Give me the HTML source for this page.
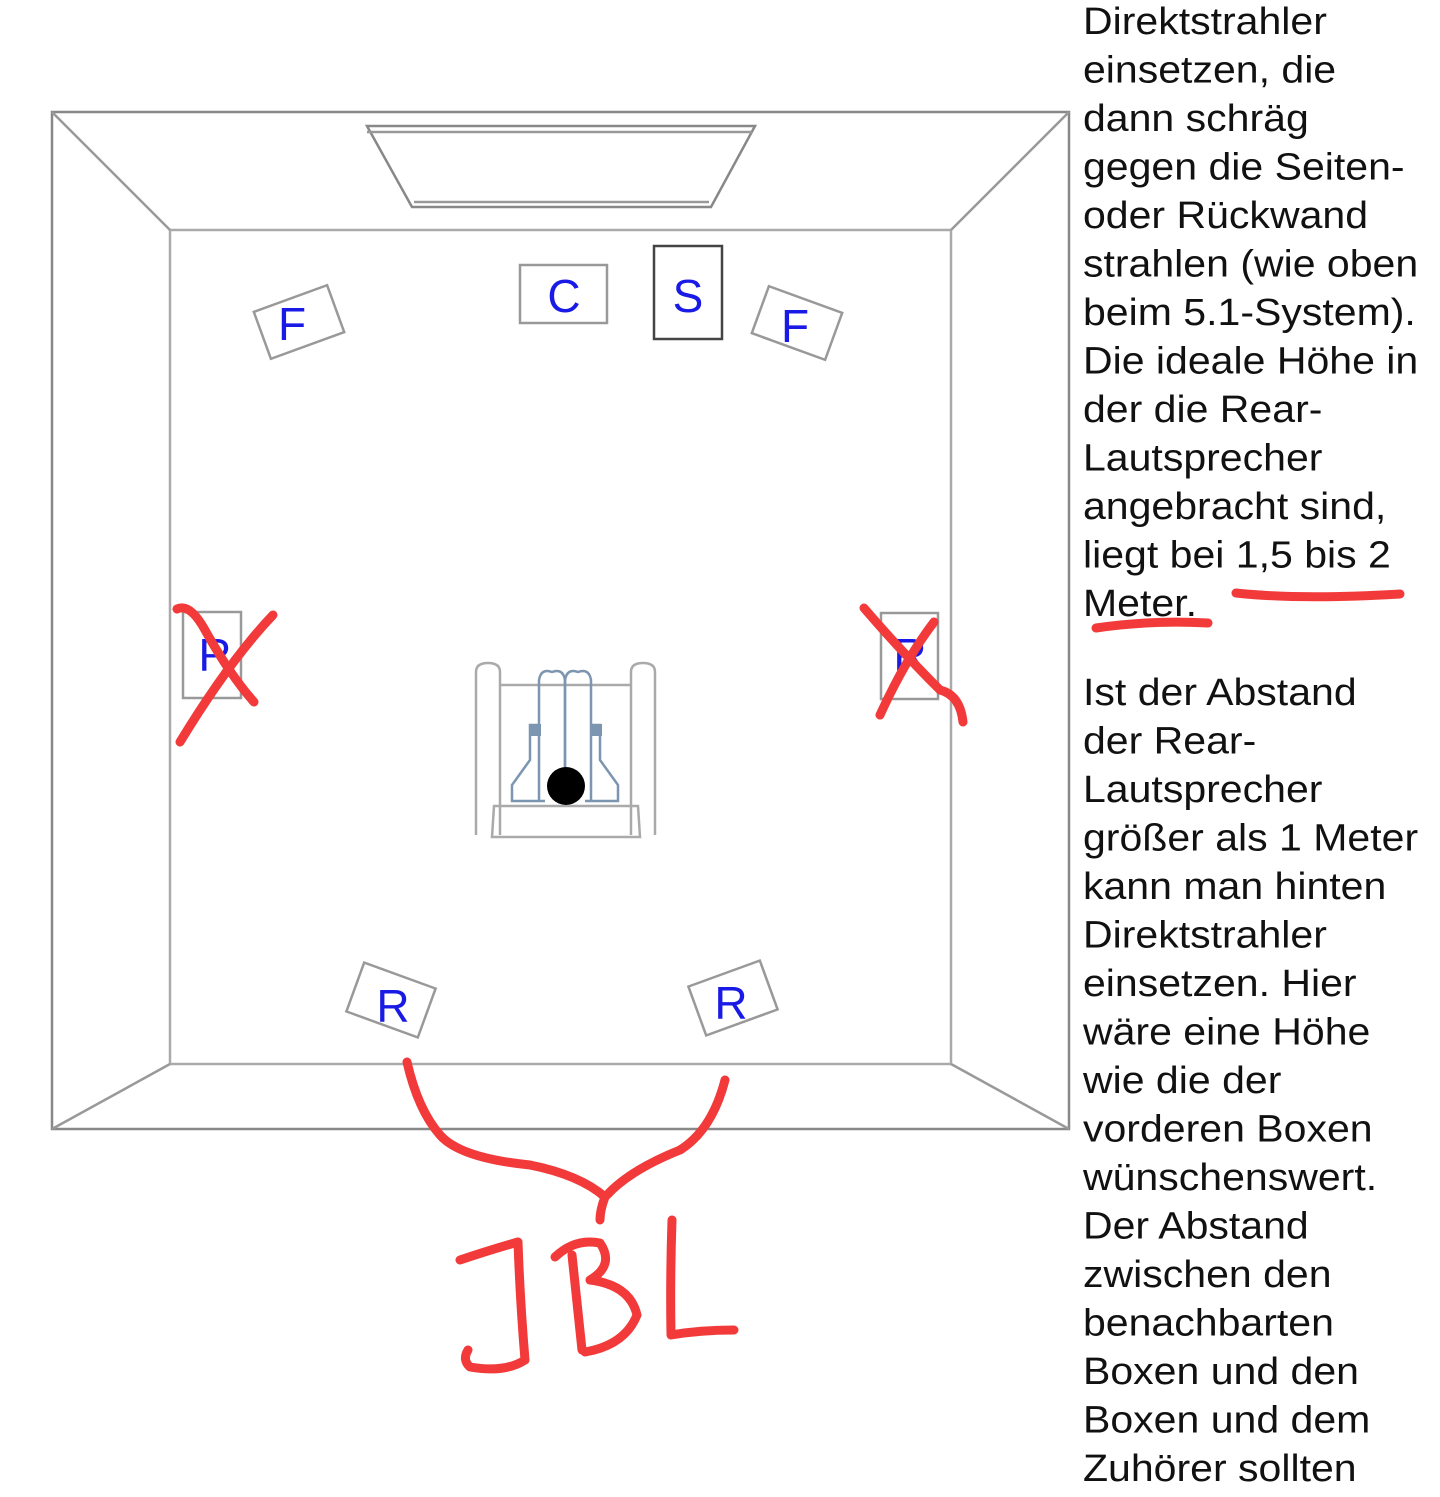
<!DOCTYPE html>
<html><head><meta charset="utf-8"><style>
html,body{margin:0;padding:0;background:#fff;}
svg{display:block}
</style></head><body>
<svg width="1440" height="1497" viewBox="0 0 1440 1497" xmlns="http://www.w3.org/2000/svg">
<g fill="none" stroke="#999" stroke-width="2.5">
<rect x="52" y="112" width="1017" height="1017" stroke="#888"/>
<rect x="170" y="230" width="781" height="834" stroke="#aaa"/>
<line x1="52" y1="112" x2="170" y2="230"/>
<line x1="1069" y1="112" x2="951" y2="230"/>
<line x1="52" y1="1129" x2="170" y2="1064"/>
<line x1="1069" y1="1129" x2="951" y2="1064"/>
<polygon points="367,126 755,126 711,207 412,207" stroke="#888"/>
<line x1="367" y1="132" x2="752" y2="132"/>
<line x1="414" y1="202" x2="709" y2="202"/>
<rect x="520" y="265" width="87" height="58" stroke="#999"/>
<rect x="654" y="246" width="68" height="93" stroke="#444"/>
<rect x="-39" y="-25" width="78" height="50" transform="translate(299,322) rotate(-20)"/>
<rect x="-39" y="-25" width="78" height="50" transform="translate(797,323) rotate(20)"/>
<rect x="-38" y="-26" width="76" height="52" transform="translate(391,1000) rotate(20)"/>
<rect x="-38" y="-26" width="76" height="52" transform="translate(733,998) rotate(-20)"/>
<rect x="183" y="612" width="58" height="86"/>
<rect x="881" y="613" width="57" height="86"/>
</g>
<g font-family="Liberation Sans, sans-serif" font-size="46" fill="#1a1ae6" text-anchor="middle">
<text x="564" y="312">C</text>
<text x="688" y="312">S</text>
<text x="292" y="340">F</text>
<text x="795" y="342">F</text>
<text x="393" y="1022">R</text>
<text x="731" y="1019">R</text>
<text x="215" y="671">R</text>
<text x="910" y="671">R</text>
</g>
<g fill="none" stroke="#aaa" stroke-width="2.5">
<path d="M476,835 V672 Q476,663 488,663 Q500,663 500,672 V835"/>
<path d="M631,835 V672 Q631,663 643,663 Q655,663 655,672 V835"/>
<line x1="500" y1="685" x2="631" y2="685"/>
<path d="M494,806 H638 L640,837 H492 Z"/>
</g>
<g fill="none" stroke="#7c95b0" stroke-width="2.5">
<path d="M539,800 V680 Q541,668 552,672 Q563,668 565,680 V780"/>
<path d="M565,780 V680 Q567,668 578,672 Q589,668 591,680 V800"/>
<path d="M539,725 H530 V760 L512,785 V801 H545"/>
<path d="M591,725 H600 V760 L618,785 V801 H585"/>
</g>
<rect x="529" y="724" width="12" height="12" fill="#7c95b0"/>
<rect x="590" y="724" width="12" height="12" fill="#7c95b0"/>
<circle cx="566" cy="786" r="19" fill="#000"/>
<g fill="none" stroke="#f23a3a" stroke-width="9" stroke-linecap="round" stroke-linejoin="round">
<path d="M177,609 Q190,603 205,630 Q230,675 254,702"/>
<path d="M273,615 Q230,660 180,742"/>
<path d="M864,608 Q900,650 940,690 Q960,695 963,722"/>
<path d="M934,622 Q905,660 880,715"/>
<path d="M1096,628 Q1150,620 1208,623"/>
<path d="M1236,593 Q1300,600 1400,594"/>
<path d="M407,1062 Q418,1110 440,1135 Q460,1158 530,1165 Q580,1175 605,1197 Q600,1210 600,1220"/>
<path d="M725,1080 Q712,1130 680,1150 Q630,1170 607,1195"/>
<path d="M460,1260 Q490,1250 518,1242 Q520,1300 525,1360 Q505,1373 470,1367 Q462,1360 468,1350"/>
<path d="M555,1257 Q575,1238 600,1243 Q615,1265 590,1280 Q630,1285 637,1315 Q625,1345 585,1352"/>
<path d="M572,1255 L582,1350"/>
<path d="M672,1220 Q670,1280 671,1335 Q700,1330 734,1330"/>
</g>
<g font-family="Liberation Sans, sans-serif" font-size="38" fill="#111" transform="translate(1083,0) scale(1.08,1) translate(-1083,0)">
<text x="1083" y="34">Direktstrahler</text>
<text x="1083" y="82.5">einsetzen, die</text>
<text x="1083" y="131">dann schräg</text>
<text x="1083" y="179.5">gegen die Seiten-</text>
<text x="1083" y="228">oder Rückwand</text>
<text x="1083" y="276.5">strahlen (wie oben</text>
<text x="1083" y="325">beim 5.1-System).</text>
<text x="1083" y="373.5">Die ideale Höhe in</text>
<text x="1083" y="422">der die Rear-</text>
<text x="1083" y="470.5">Lautsprecher</text>
<text x="1083" y="519">angebracht sind,</text>
<text x="1083" y="567.5">liegt bei 1,5 bis 2</text>
<text x="1083" y="616">Meter.</text>
<text x="1083" y="705">Ist der Abstand</text>
<text x="1083" y="753.5">der Rear-</text>
<text x="1083" y="802">Lautsprecher</text>
<text x="1083" y="850.5">größer als 1 Meter</text>
<text x="1083" y="899">kann man hinten</text>
<text x="1083" y="947.5">Direktstrahler</text>
<text x="1083" y="996">einsetzen. Hier</text>
<text x="1083" y="1044.5">wäre eine Höhe</text>
<text x="1083" y="1093">wie die der</text>
<text x="1083" y="1141.5">vorderen Boxen</text>
<text x="1083" y="1190">wünschenswert.</text>
<text x="1083" y="1238.5">Der Abstand</text>
<text x="1083" y="1287">zwischen den</text>
<text x="1083" y="1335.5">benachbarten</text>
<text x="1083" y="1384">Boxen und den</text>
<text x="1083" y="1432.5">Boxen und dem</text>
<text x="1083" y="1481">Zuhörer sollten</text>
</g>
</svg>
</body></html>
